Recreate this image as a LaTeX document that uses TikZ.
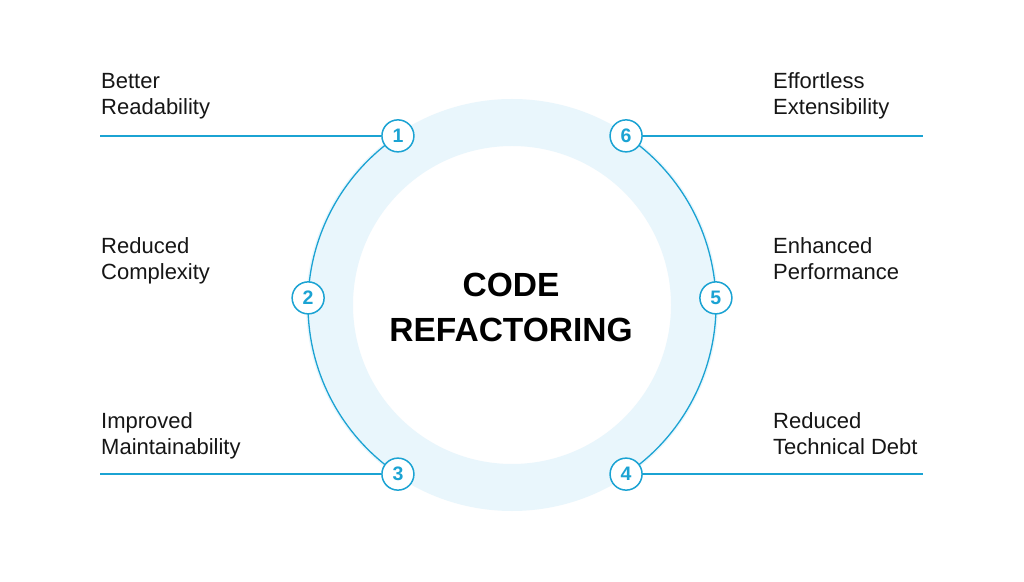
\documentclass[tikz,border=0pt]{standalone}
\usepackage{fontspec}
\setmainfont{Liberation Sans}
\usetikzlibrary{calc}
\definecolor{accent}{HTML}{1BA3D3}
\definecolor{ringfill}{HTML}{E9F6FC}
\definecolor{txt}{HTML}{161616}
\begin{document}
\begin{tikzpicture}[x=1pt,y=1pt,
  numcirc/.style={circle,draw=accent,line width=1.5pt,fill=white,minimum size=32pt,inner sep=0pt,
    text=accent,font=\fontsize{19.5}{19.5}\selectfont\bfseries},
  conn/.style={draw=accent,line width=1.3pt},
  lbl/.style={align=left,inner sep=0pt,text=txt,font=\fontsize{22}{26}\selectfont},
  ttl/.style={align=center,inner sep=0pt,text=black,font=\fontsize{33.5}{45}\selectfont\bfseries}]
\useasboundingbox (0,0) rectangle (1024,581);
\fill[white] (0,0) rectangle (1024,581);
\coordinate (c) at (512,276);
% light ring
\fill[ringfill,even odd rule] (c) circle[radius=206] (c) circle[radius=159];
% blue arcs
\draw[conn] (c) ++(124:204) arc[start angle=124,end angle=236,radius=204];
\draw[conn] (c) ++(-56:204) arc[start angle=-56,end angle=56,radius=204];
% number nodes
\node[numcirc] (n1) at ($(c)+(124:204)$) {1};
\node[numcirc] (n2) at ($(c)+(178:204)$) {2};
\node[numcirc] (n3) at ($(c)+(236:204)$) {3};
\node[numcirc] (n4) at ($(c)+(304:204)$) {4};
\node[numcirc] (n5) at ($(c)+(2:204)$) {5};
\node[numcirc] (n6) at ($(c)+(56:204)$) {6};
% free ends of horizontal leaders
\path (n1) ++(-297.9,0) coordinate (e1);
\path (n3) ++(-297.9,0) coordinate (e3);
\path (n4) ++(296.9,0) coordinate (e4);
\path (n6) ++(296.9,0) coordinate (e6);
\draw[conn] (n1) -- (e1);
\draw[conn] (n3) -- (e3);
\draw[conn] (n4) -- (e4);
\draw[conn] (n6) -- (e6);
% labels (base anchor = baseline of the last line)
\node[lbl,anchor=base west] (t1) at (101,466) {Better\\Readability};
\node[lbl,anchor=base west] (t2) at (101,301) {Reduced\\Complexity};
\node[lbl,anchor=base west] (t3) at (101,127) {Improved\\Maintainability};
\node[lbl,anchor=base west] (t6) at (773,466) {Effortless\\Extensibility};
\node[lbl,anchor=base west] (t5) at (773,301) {Enhanced\\Performance};
\node[lbl,anchor=base west] (t4) at (773,127) {Reduced\\Technical Debt};
% title
\node[ttl,anchor=base] (title) at (511,239) {CODE\\REFACTORING};
\end{tikzpicture}
\end{document}
